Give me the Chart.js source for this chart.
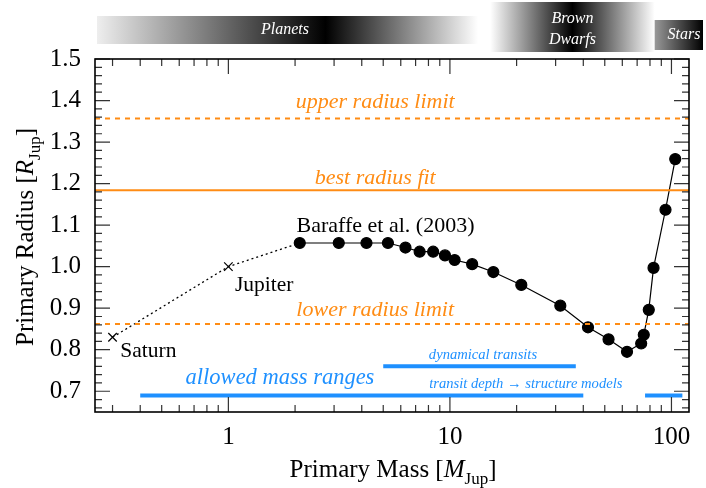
<!DOCTYPE html>
<html>
<head>
<meta charset="utf-8">
<script src="https://cdn.jsdelivr.net/npm/chart.js@4.4.1/dist/chart.umd.min.js"></script>
<style>
  html, body { margin: 0; padding: 0; background: #fff; }
  #wrap { width: 706px; height: 488px; }
</style>
</head>
<body>
<div id="wrap"><canvas id="myChart"></canvas></div>
<script>
// ticks
var massTicks = [1, 10, 100];
var massMinor = [0.3, 0.4, 0.5, 0.6, 0.7, 0.8, 0.9, 2, 3, 4, 5, 6, 7, 8, 9, 20, 30, 40, 50, 60, 70, 80, 90];
var radiusTicks = [0.7, 0.8, 0.9, 1.0, 1.1, 1.2, 1.3, 1.4, 1.5];

// Baraffe et al. (2003) models
var baraffeMass = [2.1, 3.15, 4.2, 5.25, 6.3, 7.3, 8.4, 9.5, 10.5, 12.6, 15.7, 21, 31.5, 42, 52, 63, 73, 75, 79, 83, 94, 104];
var baraffeRadius = [1.057, 1.057, 1.057, 1.057, 1.046, 1.036, 1.036, 1.027, 1.016, 1.006, 0.987, 0.956, 0.906, 0.854, 0.825, 0.795, 0.815, 0.836, 0.896, 0.997, 1.137, 1.259];

// Saturn, Jupiter
var planetNames = ['Saturn', 'Jupiter'];
var planetMass = [0.3, 1.0];
var planetRadius = [0.83, 1.0];

// radius limits
var upperRadius = 1.357;
var bestRadius = 1.184;
var lowerRadius = 0.862;

// allowed mass ranges
var dynamicalRange = [5.0, 37];
var dynamicalLevel = 0.76;
var structureRanges = [[0.4, 40], [76, 112]];
var structureLevel = 0.69;

var xMin = 0.25, xMax = 120, yMin = 0.65, yMax = 1.5;

var orange = 'rgb(255,140,20)';
var blue = 'rgb(30,144,255)';
var serif = '"Liberation Serif", "DejaVu Serif", serif';

function hline(y) {
    return [{ x: xMin, y: y }, { x: xMax, y: y }];
}

var datasets = [];

datasets.push({
    data: hline(upperRadius), showLine: true, borderColor: orange, borderWidth: 2,
    borderDash: [5, 5], pointRadius: 0
});
datasets.push({
    data: hline(bestRadius), showLine: true, borderColor: orange, borderWidth: 2, pointRadius: 0
});
datasets.push({
    data: hline(lowerRadius), showLine: true, borderColor: orange, borderWidth: 2,
    borderDash: [5, 5], pointRadius: 0
});

datasets.push({
    data: [{ x: dynamicalRange[0], y: dynamicalLevel }, { x: dynamicalRange[1], y: dynamicalLevel }],
    showLine: true, borderColor: blue, borderWidth: 4, pointRadius: 0
});
structureRanges.forEach(function (r) {
    datasets.push({
        data: [{ x: r[0], y: structureLevel }, { x: r[1], y: structureLevel }],
        showLine: true, borderColor: blue, borderWidth: 4, pointRadius: 0
    });
});

// dotted link Saturn -> Jupiter -> first model
var linkData = planetMass.map(function (m, i) { return { x: m, y: planetRadius[i] }; });
linkData.push({ x: baraffeMass[0], y: baraffeRadius[0] });
datasets.push({
    data: linkData, showLine: true, borderColor: '#000', borderWidth: 1.3, borderDash: [2, 3],
    pointStyle: 'crossRot', pointRadius: [6, 6, 0], pointBorderWidth: 1.2,
    pointBorderColor: '#000', pointBackgroundColor: '#000'
});

datasets.push({
    data: baraffeMass.map(function (m, i) { return { x: m, y: baraffeRadius[i] }; }),
    showLine: true, borderColor: '#000', borderWidth: 1.2,
    pointRadius: 5.5, pointBackgroundColor: '#000', pointBorderColor: '#000'
});

// text annotations (data coordinates)
var notes = [
    { t: 'upper radius limit', x: 4.6, y: 1.395, c: orange, f: 'italic 22px ' + serif, a: 'center' },
    { t: 'best radius fit', x: 4.6, y: 1.214, c: orange, f: 'italic 22px ' + serif, a: 'center' },
    { t: 'lower radius limit', x: 4.6, y: 0.896, c: orange, f: 'italic 22px ' + serif, a: 'center' },
    { t: 'Baraffe et al. (2003)', x: 2.03, y: 1.098, c: '#000', f: '22px ' + serif, a: 'left' },
    { t: 'Jupiter', x: 1.07, y: 0.954, c: '#000', f: '21.5px ' + serif, a: 'left' },
    { t: 'Saturn', x: 0.325, y: 0.795, c: '#000', f: '21.5px ' + serif, a: 'left' },
    { t: 'allowed mass ranges', x: 1.71, y: 0.732, c: blue, f: 'italic 22.5px ' + serif, a: 'center' },
    { t: 'dynamical transits', x: 14.1, y: 0.7875, c: blue, f: 'italic 14.6px ' + serif, a: 'center' },
    { t: 'transit depth \u2192 structure models', x: 22, y: 0.7176, c: blue, f: 'italic 14.6px ' + serif, a: 'center' }
];

function drawParts(ctx, parts, cx, cy) {
    var total = 0;
    parts.forEach(function (p) { ctx.font = p.f; total += ctx.measureText(p.t).width; });
    var x = cx - total / 2;
    parts.forEach(function (p) {
        ctx.font = p.f;
        ctx.fillText(p.t, x, cy + (p.dy || 0));
        x += ctx.measureText(p.t).width;
    });
}

function gradBar(ctx, x0, x1, y0, y1, stops) {
    var g = ctx.createLinearGradient(x0, 0, x1, 0);
    stops.forEach(function (s) { g.addColorStop(s[0], s[1]); });
    ctx.fillStyle = g;
    ctx.fillRect(x0, y0, x1 - x0, y1 - y0);
}

var decor = {
    id: 'decor',
    beforeDraw: function (chart) {
        var ctx = chart.ctx;
        ctx.save();
        ctx.fillStyle = '#fff';
        ctx.fillRect(0, 0, chart.width, chart.height);
        ctx.restore();
    },
    afterDraw: function (chart) {
        var ctx = chart.ctx;
        var a = chart.chartArea;
        var xs = chart.scales.x, ys = chart.scales.y;
        ctx.save();

        // tick marks, inward on all four sides
        ctx.strokeStyle = '#333';
        ctx.lineWidth = 1.2;
        function tickX(v, len) {
            var px = xs.getPixelForValue(v);
            ctx.beginPath();
            ctx.moveTo(px, a.bottom); ctx.lineTo(px, a.bottom - len);
            ctx.moveTo(px, a.top); ctx.lineTo(px, a.top + len);
            ctx.stroke();
        }
        function tickY(v, len) {
            var py = ys.getPixelForValue(v);
            ctx.beginPath();
            ctx.moveTo(a.left, py); ctx.lineTo(a.left + len, py);
            ctx.moveTo(a.right, py); ctx.lineTo(a.right - len, py);
            ctx.stroke();
        }
        massTicks.forEach(function (v) { tickX(v, 15); });
        massMinor.forEach(function (v) { tickX(v, 7); });
        radiusTicks.forEach(function (v) { tickY(v, 15); });
        for (var r = 0.66; r < 1.5; r += 0.02) {
            if (Math.abs(r * 10 - Math.round(r * 10)) > 0.01) tickY(r, 7);
        }

        // frame
        ctx.strokeStyle = '#000';
        ctx.lineWidth = 1.6;
        ctx.strokeRect(a.left, a.top, a.right - a.left, a.bottom - a.top);

        // annotations
        ctx.textBaseline = 'middle';
        notes.forEach(function (n) {
            ctx.font = n.f;
            ctx.fillStyle = n.c;
            ctx.textAlign = n.a;
            ctx.fillText(n.t, xs.getPixelForValue(n.x), ys.getPixelForValue(n.y));
        });

        // class bars above the plot
        var pEnd = xs.getPixelForValue(13.4);
        gradBar(ctx, a.left + 2, pEnd, 16, 44, [[0, '#eee'], [0.6, '#000'], [1, '#fff']]);
        var bStart = xs.getPixelForValue(15.2), bEnd = xs.getPixelForValue(84);
        gradBar(ctx, bStart, bEnd, 2, 52, [[0, '#fff'], [0.5, '#000'], [1, '#fff']]);
        gradBar(ctx, bEnd, 703, 20, 50, [[0, '#999'], [1, '#000']]);

        ctx.fillStyle = '#fff';
        ctx.textAlign = 'center';
        ctx.font = 'italic 16px ' + serif;
        ctx.fillText('Planets', xs.getPixelForValue(1.8), 30);
        ctx.fillText('Brown', (bStart + bEnd) / 2, 19);
        ctx.fillText('Dwarfs', (bStart + bEnd) / 2, 40);
        ctx.fillText('Stars', 684, 35);

        // axis titles
        ctx.fillStyle = '#000';
        ctx.textAlign = 'left';
        ctx.textBaseline = 'alphabetic';
        var xt = [
            { t: 'Primary Mass [', f: '25px ' + serif },
            { t: 'M', f: 'italic 25px ' + serif },
            { t: 'Jup', f: '17px ' + serif, dy: 7 },
            { t: ']', f: '25px ' + serif }
        ];
        drawParts(ctx, xt, 393, 477);
        var yt = [
            { t: 'Primary Radius [', f: '25px ' + serif },
            { t: 'R', f: 'italic 25px ' + serif },
            { t: 'Jup', f: '17px ' + serif, dy: 7 },
            { t: ']', f: '25px ' + serif }
        ];
        ctx.translate(33, 237);
        ctx.rotate(-Math.PI / 2);
        drawParts(ctx, yt, 0, 0);
        ctx.restore();
    }
};

var ctx = document.getElementById('myChart').getContext('2d');
var myChart = new Chart(ctx, {
    type: 'scatter',
    data: { datasets: datasets },
    options: {
        responsive: true,
        maintainAspectRatio: false,
        animation: false,
        layout: { padding: { top: 59, right: 17, left: 0, bottom: 0 } },
        plugins: { legend: { display: false }, tooltip: { enabled: false } },
        scales: {
            x: {
                type: 'logarithmic', min: xMin, max: xMax,
                grid: { display: false, drawTicks: false }, border: { display: false },
                ticks: {
                    color: '#000', padding: 10, autoSkip: false, maxRotation: 0,
                    font: { family: serif, size: 25 },
                    callback: function (v) { return String(v); }
                },
                afterBuildTicks: function (s) { s.ticks = massTicks.map(function (v) { return { value: v }; }); },
                afterFit: function (s) { s.height = 76; }
            },
            y: {
                type: 'linear', min: yMin, max: yMax,
                grid: { display: false, drawTicks: false }, border: { display: false },
                ticks: {
                    color: '#000', padding: 14,
                    font: { family: serif, size: 25 },
                    callback: function (v) { return v.toFixed(1); }
                },
                afterBuildTicks: function (s) { s.ticks = radiusTicks.map(function (v) { return { value: v }; }); },
                afterFit: function (s) { s.width = 95; }
            }
        }
    },
    plugins: [decor]
});
</script>
</body>
</html>
